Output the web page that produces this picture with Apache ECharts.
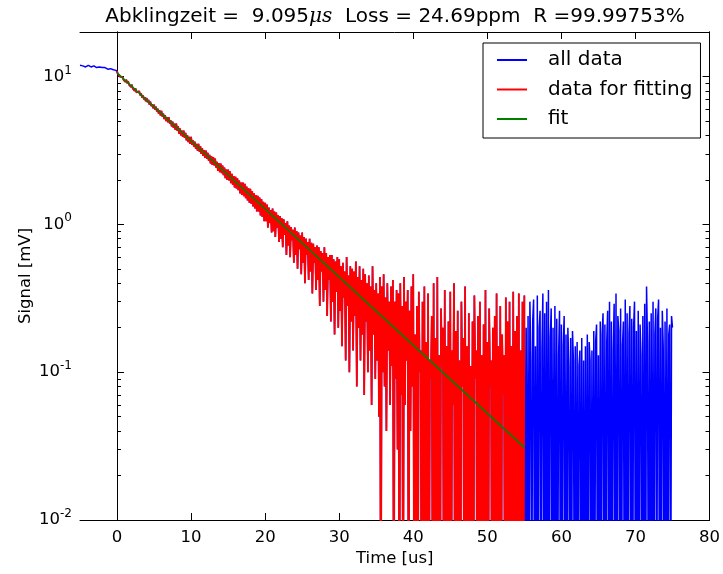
<!DOCTYPE html>
<html>
<head>
<meta charset="utf-8">
<script src="https://cdn.jsdelivr.net/npm/echarts@6/dist/echarts.min.js"></script>
<style>
html,body{margin:0;padding:0;background:#ffffff;}
#chart{width:723px;height:574px;}
</style>
</head>
<body>
<div id="chart"></div>
<script>
// ---- data ----
// sampling of the trace (time in us)
const T_START = -5;
const T_STEP = 0.125;
// values below the 10^-2 axis floor (noise dips / negative readings) are written as 0.001
// pre-trigger part, t = -5 .. -0.125 (one row = 1 us)
const preTriggerSignal = [
  11.9, 11.7, 12.0, 11.8, 11.7, 11.9, 11.6, 11.8,
  11.7, 11.9, 11.6, 11.8, 11.6, 11.7, 11.5, 11.8,
  11.6, 11.7, 11.5, 11.7, 11.5, 11.6, 11.4, 11.6,
  11.5, 11.6, 11.3, 11.5, 11.4, 11.5, 11.2, 11.4,
  11.3, 11.3, 11.1, 11.2, 11.1, 11.1, 10.9, 11.0
];
// fitting window, t = 0 .. 55 (one row = 1 us, last value at t = 55)
const fitWindowSignal = [
  10.9, 10.4, 10.5, 10.0, 10.2, 9.8, 9.9, 9.5,
  9.8, 9.2, 9.5, 9.0, 9.3, 8.8, 9.0, 8.5,
  8.8, 8.3, 8.5, 8.0, 8.3, 7.8, 8.0, 7.6,
  7.95, 7.45, 7.7, 7.2, 7.45, 7.0, 7.25, 6.8,
  7.15, 6.7, 6.95, 6.45, 6.75, 6.3, 6.5, 6.1,
  6.45, 5.95, 6.25, 5.8, 6.05, 5.6, 5.9, 5.45,
  5.85, 5.35, 5.6, 5.15, 5.45, 5.0, 5.3, 4.9,
  5.3, 4.8, 5.05, 4.6, 4.95, 4.5, 4.8, 4.35,
  4.8, 4.3, 4.6, 4.1, 4.45, 4.0, 4.3, 3.9,
  4.3, 3.85, 4.15, 3.7, 4.0, 3.6, 3.9, 3.5,
  3.9, 3.45, 3.7, 3.35, 3.62, 3.25, 3.5, 3.15,
  3.5, 3.1, 3.38, 3.0, 3.28, 2.9, 3.18, 2.82,
  3.15, 2.78, 3.05, 2.7, 2.95, 2.58, 2.88, 2.52,
  2.85, 2.5, 2.78, 2.42, 2.65, 2.3, 2.6, 2.25,
  2.58, 2.22, 2.5, 2.15, 2.42, 2.05, 2.35, 2.0,
  2.35, 1.98, 2.28, 1.9, 2.2, 1.85, 2.12, 1.78,
  2.1, 1.75, 2.05, 1.7, 1.98, 1.62, 1.92, 1.58,
  1.92, 1.55, 1.88, 1.5, 1.8, 1.45, 1.75, 1.4,
  1.74, 1.38, 1.68, 1.32, 1.62, 1.28, 1.58, 1.22,
  1.56, 1.22, 1.52, 1.15, 1.48, 1.12, 1.42, 1.05,
  1.40, 1.05, 1.36, 0.95, 1.30, 1.02, 1.25, 0.88,
  1.28, 0.90, 1.22, 0.82, 1.20, 0.95, 1.15, 0.76,
  1.14, 0.80, 1.10, 0.70, 1.08, 0.85, 1.02, 0.62,
  1.05, 0.72, 0.98, 0.60, 0.96, 0.78, 0.92, 0.55,
  0.95, 0.62, 0.90, 0.50, 0.88, 0.68, 0.84, 0.46,
  0.88, 0.55, 0.82, 0.40, 0.80, 0.62, 0.76, 0.42,
  0.80, 0.48, 0.75, 0.34, 0.74, 0.55, 0.70, 0.36,
  0.72, 0.42, 0.70, 0.28, 0.66, 0.48, 0.64, 0.30,
  0.70, 0.36, 0.64, 0.24, 0.60, 0.42, 0.62, 0.22,
  0.62, 0.30, 0.58, 0.18, 0.56, 0.35, 0.60, 0.20,
  0.58, 0.26, 0.52, 0.15, 0.55, 0.32, 0.48, 0.12,
  0.60, 0.28, 0.45, 0.10, 0.52, 0.22, 0.50, 0.14,
  0.48, 0.24, 0.56, 0.08, 0.44, 0.20, 0.52, 0.12,
  0.42, 0.18, 0.50, 0.07, 0.46, 0.22, 0.40, 0.10,
  0.45, 0.14, 0.38, 0.06, 0.52, 0.18, 0.36, 0.09,
  0.40, 0.12, 0.34, 0.05, 0.44, 0.001, 0.38, 0.10,
  0.46, 0.08, 0.32, 0.04, 0.40, 0.14, 0.30, 0.06,
  0.38, 0.11, 0.42, 0.001, 0.30, 0.09, 0.36, 0.03,
  0.34, 0.001, 0.40, 0.07, 0.28, 0.001, 0.44, 0.06,
  0.30, 0.12, 0.36, 0.001, 0.26, 0.04, 0.38, 0.08,
  0.46, 0.001, 0.18, 0.001, 0.28, 0.001, 0.35, 0.10,
  0.14, 0.001, 0.30, 0.001, 0.38, 0.001, 0.16, 0.001,
  0.34, 0.001, 0.12, 0.09, 0.24, 0.001, 0.40, 0.001,
  0.17, 0.001, 0.44, 0.001, 0.13, 0.001, 0.27, 0.11,
  0.20, 0.001, 0.36, 0.001, 0.15, 0.001, 0.22, 0.001,
  0.35, 0.001, 0.14, 0.06, 0.40, 0.001, 0.19, 0.001,
  0.26, 0.001, 0.12, 0.001, 0.30, 0.08, 0.17, 0.001,
  0.38, 0.001, 0.15, 0.001, 0.25, 0.001, 0.11, 0.001,
  0.22, 0.001, 0.33, 0.09, 0.14, 0.001, 0.24, 0.001,
  0.30, 0.001, 0.13, 0.001, 0.21, 0.001, 0.36, 0.001,
  0.16, 0.001, 0.27, 0.08, 0.12, 0.001, 0.20, 0.001,
  0.24, 0.001, 0.34, 0.001, 0.15, 0.001, 0.28, 0.001,
  0.18, 0.07, 0.13, 0.001, 0.32, 0.001, 0.22, 0.001,
  0.30, 0.001, 0.15, 0.001, 0.35, 0.001, 0.19, 0.001,
  0.24, 0.001, 0.34, 0.001, 0.14, 0.001, 0.30, 0.001,
  0.33
];
// after the fitting window, t = 55.125 .. 75 (one row = 1 us)
const tailSignal = [
  0.001, 0.20, 0.001, 0.24, 0.001, 0.30, 0.12, 0.001,
  0.22, 0.31, 0.001, 0.15, 0.001, 0.33, 0.001, 0.20,
  0.26, 0.001, 0.14, 0.34, 0.001, 0.25, 0.001, 0.30,
  0.001, 0.36, 0.001, 0.17, 0.27, 0.001, 0.20, 0.001,
  0.28, 0.001, 0.23, 0.001, 0.13, 0.26, 0.001, 0.21,
  0.001, 0.15, 0.24, 0.001, 0.18, 0.001, 0.20, 0.11,
  0.001, 0.17, 0.001, 0.19, 0.12, 0.001, 0.15, 0.001,
  0.16, 0.001, 0.11, 0.14, 0.001, 0.17, 0.001, 0.12,
  0.001, 0.15, 0.001, 0.18, 0.001, 0.16, 0.12, 0.001,
  0.14, 0.001, 0.19, 0.001, 0.16, 0.21, 0.001, 0.13,
  0.001, 0.22, 0.001, 0.18, 0.25, 0.001, 0.21, 0.001,
  0.16, 0.26, 0.001, 0.30, 0.001, 0.22, 0.001, 0.14,
  0.29, 0.001, 0.34, 0.001, 0.24, 0.19, 0.001, 0.27,
  0.001, 0.15, 0.22, 0.001, 0.31, 0.001, 0.25, 0.001,
  0.18, 0.28, 0.001, 0.23, 0.001, 0.20, 0.30, 0.001,
  0.19, 0.001, 0.26, 0.001, 0.21, 0.13, 0.001, 0.24,
  0.001, 0.29, 0.001, 0.38, 0.16, 0.001, 0.22, 0.001,
  0.25, 0.001, 0.30, 0.001, 0.18, 0.27, 0.001, 0.23,
  0.31, 0.001, 0.20, 0.001, 0.26, 0.15, 0.001, 0.22,
  0.001, 0.27, 0.001, 0.18, 0.21, 0.001, 0.24, 0.20
];
// fitted exponential (straight line on the log axis), end points
const fitTimes = [0, 55];
const fitValues = [10.6, 0.031];

const seriesNames = ['all data', 'data for fitting', 'fit'];
const xTickValues = [0, 10, 20, 30, 40, 50, 60, 70, 80];
const yMajorTickValues = [0.01, 0.1, 1, 10];
const yMinorTickValues = [0.02, 0.03, 0.04, 0.05, 0.06, 0.07, 0.08, 0.09,
  0.2, 0.3, 0.4, 0.5, 0.6, 0.7, 0.8, 0.9, 2, 3, 4, 5, 6, 7, 8, 9];
const titleText = {pre: 'Abklingzeit =  9.095', unit: 'μs', post: '  Loss = 24.69ppm  R =99.99753%'};
const xAxisTitle = 'Time [us]';
const yAxisTitle = 'Signal [mV]';

// ---- build series points ----
const allSignal = preTriggerSignal.concat(fitWindowSignal, tailSignal);
const allPoints = allSignal.map((v, i) => [T_START + i * T_STEP, v]);
const fitStart = T_START + preTriggerSignal.length * T_STEP;
const fitWindowPoints = fitWindowSignal.map((v, i) => [fitStart + i * T_STEP, v]);
const fitPoints = fitTimes.map((t, i) => [t, fitValues[i]]);

const FONT = "'DejaVu Sans', sans-serif";
const chart = echarts.init(document.getElementById('chart'), null, {renderer: 'canvas'});

function yLabel(v) {
  const e = Math.round(Math.log10(v));
  return '{b|10}{s|' + (e < 0 ? '-' : '') + Math.abs(e) + '}';
}
const yRich = {
  b: {fontSize: 16.5, fontFamily: FONT, color: '#000'},
  s: {fontSize: 12, fontFamily: FONT, color: '#000', padding: [0, 0, 12, 0]}
};

function yAxisDef(pos, major, showLabel) {
  return {
    type: 'log', logBase: 10, min: 0.01, max: 20, position: pos, gridIndex: 0,
    axisLine: {show: true, lineStyle: {color: '#000', width: 1}},
    splitLine: {show: false}, minorTick: {show: false},
    axisTick: {show: true, inside: true, length: major ? 7 : 4,
      customValues: major ? yMajorTickValues : yMinorTickValues,
      lineStyle: {color: '#000', width: 1}},
    axisLabel: showLabel ? {show: true, customValues: yMajorTickValues, formatter: yLabel, rich: yRich, margin: 8} : {show: false},
    name: showLabel ? yAxisTitle : '',
    nameLocation: 'middle', nameGap: 46, nameRotate: 90, nameMoveOverlap: false,
    nameTextStyle: {fontFamily: FONT, fontSize: 16.5, color: '#000'}
  };
}
function xAxisDef(pos, showLabel) {
  return {
    type: 'value', min: -5, max: 80, position: pos, gridIndex: 0,
    axisLine: {show: true, onZero: false, lineStyle: {color: '#000', width: 1}},
    splitLine: {show: false},
    axisTick: {show: true, inside: true, length: 7, customValues: xTickValues, lineStyle: {color: '#000', width: 1}},
    axisLabel: showLabel ? {show: true, customValues: xTickValues, fontFamily: FONT, fontSize: 16.5, color: '#000', margin: 9} : {show: false},
    name: showLabel ? xAxisTitle : '',
    nameLocation: 'middle', nameGap: 30, nameMoveOverlap: false,
    nameTextStyle: {fontFamily: FONT, fontSize: 16.5, color: '#000', verticalAlign: 'top'}
  };
}

const option = {
  animation: false,
  backgroundColor: '#ffffff',
  grid: {left: 80, top: 32, right: 12, bottom: 54, containLabel: false},
  xAxis: [xAxisDef('bottom', true), xAxisDef('top', false)],
  yAxis: [yAxisDef('left', true, true), yAxisDef('left', false, false), yAxisDef('right', true, false), yAxisDef('right', false, false)],
  legend: {
    orient: 'vertical', left: 483, top: 43,
    data: seriesNames.map(n => ({name: n, icon: 'rect'})),
    itemWidth: 30, itemHeight: 2, itemGap: 9.5,
    padding: [7, 8, 9, 14],
    borderColor: '#000', borderWidth: 1, borderRadius: 0,
    backgroundColor: '#ffffff',
    textStyle: {fontFamily: FONT, fontSize: 20, color: '#000', padding: [0, 0, 0, 16], lineHeight: 20}
  },
  graphic: [{
    type: 'text', x: 395, y: 17,
    style: {
      text: '{a|' + titleText.pre + '}{u|' + titleText.unit + '}{a|' + titleText.post + '}',
      align: 'center', verticalAlign: 'middle',
      rich: {
        a: {fontFamily: FONT, fontSize: 20, fill: '#000'},
        u: {fontFamily: "'DejaVu Serif', serif", fontStyle: 'italic', fontSize: 20, fill: '#000'}
      }
    }
  }],
  series: [
    {name: seriesNames[0], type: 'line', xAxisIndex: 0, yAxisIndex: 0, data: allPoints,
      showSymbol: false, symbol: 'none', clip: true, z: 2,
      lineStyle: {color: '#0000ff', width: 1.5}, itemStyle: {color: '#0000ff'}},
    {name: seriesNames[1], type: 'line', xAxisIndex: 0, yAxisIndex: 0, data: fitWindowPoints,
      showSymbol: false, symbol: 'none', clip: true, z: 3,
      lineStyle: {color: '#ff0000', width: 1.8}, itemStyle: {color: '#ff0000'}},
    {name: seriesNames[2], type: 'line', xAxisIndex: 0, yAxisIndex: 0, data: fitPoints,
      showSymbol: false, symbol: 'none', clip: true, z: 4,
      lineStyle: {color: '#008000', width: 1.6}, itemStyle: {color: '#008000'}}
  ]
};
chart.setOption(option);
</script>
</body>
</html>
